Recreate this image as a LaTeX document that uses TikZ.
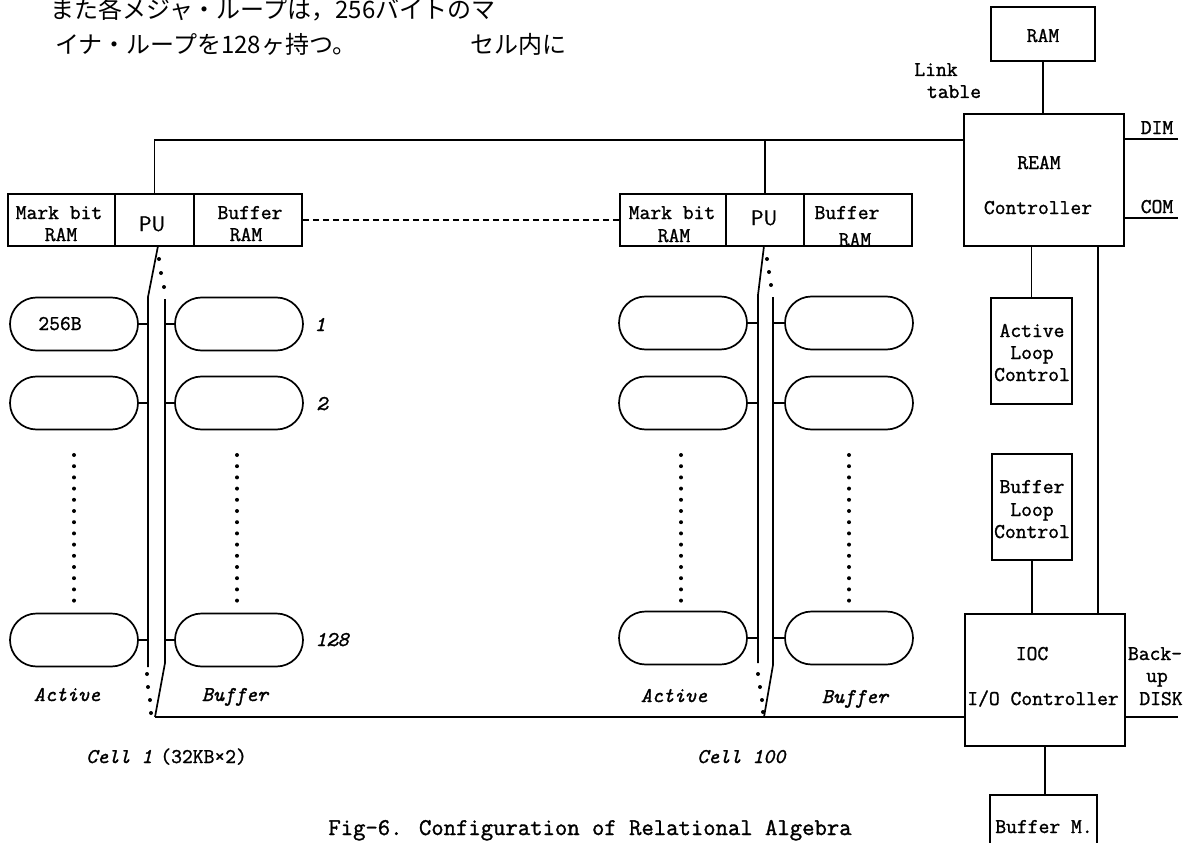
\documentclass[tikz,border=0pt]{standalone}
\usepackage{fontspec}
\newfontfamily\jpfont{Noto Sans CJK JP}
\newfontfamily\mytt{Latin Modern Mono}[FakeBold=1.3]
\newfontfamily\mysf{Latin Modern Sans}[FakeBold=1.0]
\usetikzlibrary{shapes.misc}
\tikzset{
  ln/.style={line width=1.7pt},
  box/.style={draw, line width=1.7pt, inner sep=0pt},
  pill/.style={draw, line width=1.7pt, rounded rectangle, minimum width=128pt, minimum height=53pt, inner sep=0pt},
  tt/.style={font=\fontsize{21}{22}\selectfont\mytt, inner sep=0pt, anchor=base},
  itl/.style={font=\fontsize{21}{22}\selectfont\mytt\itshape, inner sep=0pt, anchor=base},
  pu/.style={font=\fontsize{21}{22}\selectfont\mysf, inner sep=0pt, anchor=base},
  jp/.style={font=\fontsize{24}{26}\selectfont\jpfont, inner sep=0pt, anchor=base west},
}
\begin{document}
\begin{tikzpicture}[x=1pt,y=-1pt]
\useasboundingbox (0,0) rectangle (1195,843);
\clip (0,0) rectangle (1195,843);
\fill[white] (0,0) rectangle (1195,843);

% handwritten note
\node[jp] (note1) at (50,19) {また各メジャ・ループは，256バイトのマ};
\node[jp] (note2) at (55,54) {イナ・ループを128ヶ持つ。};
\node[jp] (note3) at (470,54) {セル内に};

% ---------- right side controllers ----------
\node[box, minimum width=104pt, minimum height=54pt] (ram) at (1043,34) {};
\node[tt] (ramt) at (1043,42) {RAM};
\node[tt] (link) at (936,76) {Link};
\node[tt] (table) at (954,98) {table};

\node[box, minimum width=160pt, minimum height=132pt] (ream) at (1044,180) {};
\node[tt] (reamt) at (1039,169) {REAM};
\node[tt] (ctrlt) at (1038,214) {Controller};

\node[box, minimum width=81pt, minimum height=106pt] (alc) at (1031.5,351) {};
\node[tt] (alc1) at (1032,337) {Active};
\node[tt] (alc2) at (1032,359) {Loop};
\node[tt] (alc3) at (1032,381) {Control};

\node[box, minimum width=80pt, minimum height=106pt] (blc) at (1032,507) {};
\node[tt] (blc1) at (1032,493) {Buffer};
\node[tt] (blc2) at (1032,516) {Loop};
\node[tt] (blc3) at (1032,538) {Control};

\node[box, minimum width=160pt, minimum height=132pt] (ioc) at (1045,680) {};
\node[tt] (ioct) at (1032,660) {IOC};
\node[tt] (iocc) at (1043,705) {I/O Controller};

\node[box, minimum width=107pt, minimum height=80pt] (bufm) at (1043.5,835) {};
\node[tt] (bufmt) at (1044,833) {Buffer M.};

\node[tt] (dim) at (1157,134) {DIM};
\node[tt] (com) at (1157,213) {COM};
\node[tt] (back) at (1155,660) {Back-};
\node[tt] (up) at (1157,682) {up};
\node[tt] (disk) at (1161,705) {DISK};

\coordinate (tbR) at (964,140);
\coordinate (dimE) at (1178,139);
\coordinate (comE) at (1178,218);
\coordinate (lr) at (1098,246);
\coordinate (bkE) at (1178,717);
\coordinate (bb1) at (155,717);

\draw[ln] (ram.south) -- (ram.south |- ream.north);
\draw[ln] (ream.east |- dimE) -- (dimE);
\draw[ln] (ream.east |- comE) -- (comE);
\draw[ln] (alc.north) -- (alc.north |- ream.south);
\draw[ln] (lr) -- (lr |- ioc.north);
\draw[ln] (blc.south) -- (blc.south |- ioc.north);
\draw[ln] (ioc.south) -- (ioc.south |- bufm.north);
\draw[ln] (ioc.east |- bkE) -- (bkE);
\draw[ln] (bb1) -- (bb1 -| ioc.west);

% ---------- Cell 1 ----------
\node[box, minimum width=107pt, minimum height=52pt] (mb1) at (61.5,220) {};
\node[box, minimum width=79pt, minimum height=52pt] (pu1) at (154.5,220) {};
\node[box, minimum width=108pt, minimum height=52pt] (br1) at (248,220) {};
\node[tt] (mb1a) at (59,219) {Mark bit};
\node[tt] (mb1b) at (61,241) {RAM};
\node[pu] (pu1t) at (152,231) {PU};
\node[tt] (br1a) at (250,219) {Buffer};
\node[tt] (br1b) at (246,241) {RAM};

\draw[ln] (pu1.north) |- (tbR);

\node[pill] (a1r1) at (74,324) {};
\node[tt] (b256) at (60,330) {256B};
\node[pill] (b1r1) at (239,324) {};
\node[pill] (a1r2) at (74,403) {};
\node[pill] (b1r2) at (239,403) {};
\node[pill] (a1r3) at (74,640) {};
\node[pill] (b1r3) at (239,640) {};
\node[itl] (n1) at (320,331) {1};
\node[itl] (n2) at (322,410) {2};
\node[itl] (n128) at (332,646) {128};

\coordinate (L1t) at (158,246);
\coordinate (L1a) at (148,297);
\coordinate (L1b) at (148,667);
\coordinate (R1a) at (165,299);
\coordinate (R1b) at (165,663);
\draw[ln] (L1t) -- (L1a) -- (L1b);
\draw[ln] (R1a) -- (R1b) -- (bb1);
\foreach \r in {1,2,3}{
  \draw[line width=1.4pt] (a1r\r.east) -- (a1r\r.east -| L1a);
  \draw[line width=1.4pt] (b1r\r.west) -- (b1r\r.west -| R1a);
}
\foreach \p in {(159,259),(161,273),(164,287),(147,674),(148,687),(150,700),(151,713)}
  \fill \p circle (2pt);
\foreach \i in {0,...,13}{
  \fill (74,{455+\i*11.2}) circle (2pt);
  \fill (237,{455+\i*11.2}) circle (2pt);
}
\node[itl] (act1) at (67,701) {Active};
\node[itl] (buf1) at (235,701) {Buffer};
\node[tt, anchor=base west] (cell1) at (86,763) {{\itshape Cell 1}\hspace{8pt}(32KB×2)};

% ---------- Cell 100 ----------
\node[box, minimum width=106pt, minimum height=52pt] (mb2) at (673,220) {};
\node[box, minimum width=78pt, minimum height=52pt] (pu2) at (765,220) {};
\node[box, minimum width=108pt, minimum height=52pt] (br2) at (858,220) {};
\node[tt] (mb2a) at (672,219) {Mark bit};
\node[tt] (mb2b) at (674,242) {RAM};
\node[pu] (pu2t) at (764,225) {PU};
\node[tt] (br2a) at (847,219) {Buffer};
\node[tt] (br2b) at (855,246) {RAM};

\draw[ln, dash pattern=on 6pt off 4pt] (br1.east) -- (mb2.west);
\draw[ln] (pu2.north) -- (pu2.north |- tbR);

\node[pill] (a2r1) at (683,323) {};
\node[pill] (b2r1) at (849,323) {};
\node[pill] (a2r2) at (683,403) {};
\node[pill] (b2r2) at (849,403) {};
\node[pill] (a2r3) at (683,638) {};
\node[pill] (b2r3) at (849,638) {};

\coordinate (L2t) at (764,246);
\coordinate (L2a) at (758,295);
\coordinate (L2b) at (758,663);
\coordinate (R2a) at (773,297);
\coordinate (R2b) at (773,665);
\coordinate (R2c) at (764,717);
\draw[ln] (L2t) -- (L2a) -- (L2b);
\draw[ln] (R2a) -- (R2b) -- (R2c);
\foreach \r in {1,2,3}{
  \draw[line width=1.4pt] (a2r\r.east) -- (a2r\r.east -| L2a);
  \draw[line width=1.4pt] (b2r\r.west) -- (b2r\r.west -| R2a);
}
\foreach \p in {(767,259),(769,272),(771,285),(758,674),(760,687),(762,700),(763,712)}
  \fill \p circle (2pt);
\foreach \i in {0,...,13}{
  \fill (681,{455+\i*11.2}) circle (2pt);
  \fill (849,{455+\i*11.2}) circle (2pt);
}
\node[itl] (act2) at (674,702) {Active};
\node[itl] (buf2) at (855,703) {Buffer};
\node[itl, anchor=base west] (cell2) at (697,763) {Cell 100};

% caption
\node[font=\fontsize{24}{26}\selectfont\mytt, inner sep=0pt, anchor=base] (cap) at (590,835) {Fig-6. Configuration of Relational Algebra};
\end{tikzpicture}
\end{document}
